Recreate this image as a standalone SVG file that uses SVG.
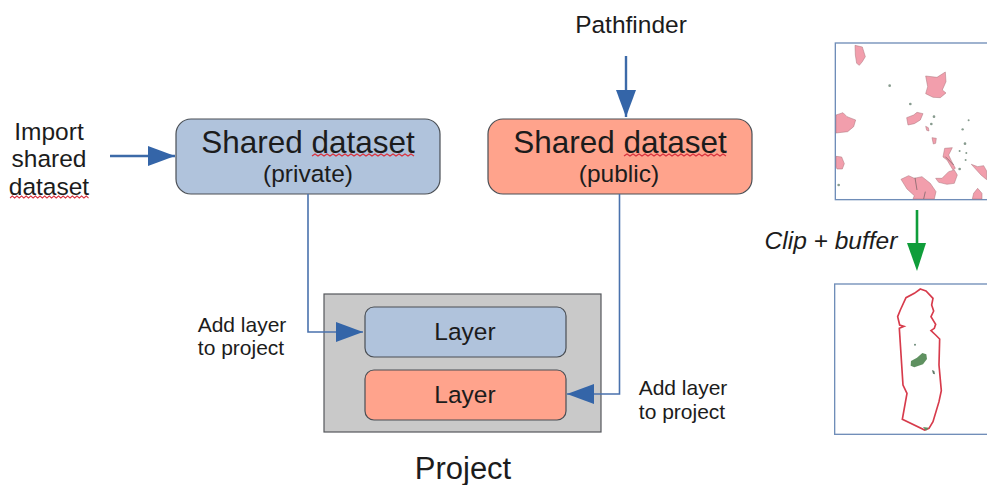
<svg xmlns="http://www.w3.org/2000/svg" width="987" height="485" viewBox="0 0 987 485">
<style>
text{font-family:"Liberation Sans",Arial,sans-serif;fill:#1c1c1c;text-anchor:middle}
.t31{font-size:31.500px}.t24{font-size:24.500px}.t21{font-size:21px}
.box{stroke:#4a4f55;stroke-width:1.200}
.blue{fill:#b0c3dc}.sal{fill:#ffa38c}
.conn{fill:none;stroke:#4a72ad;stroke-width:1.600}
.thick{fill:none;stroke:#3c6aa8;stroke-width:2.400}
.sq{fill:none;stroke:#d9333f;stroke-width:1.300}
.frame{fill:#fff;stroke:#6f8db8;stroke-width:4}
.isl{fill:#f29eac;stroke:#a8737c;stroke-width:1.500;stroke-linejoin:round}
.dk{fill:#5f7a68;stroke:none;opacity:.75}
</style>
<defs>
<filter id="soft" x="-5%" y="-5%" width="110%" height="110%"><feGaussianBlur stdDeviation="1.200"/></filter>
<marker id="ab" markerUnits="userSpaceOnUse" markerWidth="28" markerHeight="22" refX="27" refY="11" orient="auto"><path d="M0 1L27 11L0 21Z" fill="#3465a8"/></marker>
<path id="w" d="M0 0l3-2 3 2 3-2 3 2 3-2 3 2 3-2 3 2 3-2 3 2 3-2 3 2 3-2 3 2 3-2 3 2 3-2 3 2 3-2 3 2 3-2 3 2 3-2 3 2 3-2 3 2 3-2 3 2 3-2 3 2 3-2 3 2 3-2 3 2"/>
</defs>
<rect width="987" height="485" fill="#fff"/>
<g id="import-label">
<text class="t24" x="49" y="140">Import</text>
<text class="t24" x="49" y="167">shared</text>
<text class="t24" x="49" y="195">dataset</text>
<use href="#w" class="sq" transform="translate(10 198) scale(.77 1)"/>
</g>
<g id="pathfinder-label"><text class="t24" x="631" y="33">Pathfinder</text></g>
<g id="shared-private">
<rect class="box blue" x="176" y="119" width="264" height="75" rx="15"/>
<text class="t31" x="308" y="153">Shared dataset</text>
<text class="t24" x="308" y="182">(private)</text>
<use href="#w" class="sq" transform="translate(312 156)"/>
</g>
<g id="shared-public">
<rect class="box sal" x="488" y="119" width="264" height="75" rx="15"/>
<text class="t31" x="620" y="153">Shared dataset</text>
<text class="t24" x="619" y="182">(public)</text>
<use href="#w" class="sq" transform="translate(624 156)"/>
</g>
<g id="project">
<rect x="324" y="294" width="277" height="138" fill="#c9c9c9" stroke="#55585c" stroke-width="1.200"/>
<text x="463" y="479" font-size="31px">Project</text>
</g>
<g id="layer-private">
<rect class="box blue" x="365" y="307" width="201" height="50" rx="9"/>
<text class="t24" x="465" y="340">Layer</text>
</g>
<g id="layer-public">
<rect class="box sal" x="365" y="370" width="201" height="50" rx="9"/>
<text class="t24" x="465" y="403">Layer</text>
</g>
<g id="add-layer-left">
<text class="t21" x="242" y="332">Add layer</text>
<text class="t21" x="241" y="355">to project</text>
</g>
<g id="add-layer-right">
<text class="t21" x="683" y="395">Add layer</text>
<text class="t21" x="682" y="419">to project</text>
</g>
<g id="clip-label"><text class="t24" x="831" y="249" font-style="italic">Clip + buffer</text></g>
<g id="connectors">
<path class="thick" d="M110 156H175" marker-end="url(#ab)"/>
<path class="thick" d="M626 56V117" marker-end="url(#ab)"/>
<path class="conn" d="M308 194V332H363" marker-end="url(#ab)"/>
<path class="conn" d="M619.500 194V394H567" marker-end="url(#ab)"/>
<path d="M917 210V250" fill="none" stroke="#0f9d3a" stroke-width="2.600"/>
<path d="M907 243H926L917 271Z" fill="#0f9d3a"/>
</g>
<g id="map-before" transform="translate(827 35) scale(.3333)">
<rect class="frame" x="25" y="24" width="470" height="470"/>
<g filter="url(#soft)">
<path class="isl" d="M84 31L106 36L115 65L106 80L97 91L89 85L85 60Z"/>
<path class="isl" d="M296 123L330 127L355 111L357 140L346 165L357 174L340 188L318 187L296 176L302 155Z"/>
<path class="isl" d="M27 240L48 233L60 245L86 255L80 275L62 290L27 294Z"/>
<path class="isl" d="M27 364L44 366L52 386L46 402L30 402L27 395Z"/>
<path class="isl" d="M239 248L260 240L270 232L288 236L280 255L262 266L243 270Z"/>
<path class="isl" d="M296 274L304 278L306 288L299 286Z"/>
<path class="isl" d="M315 308L328 310L326 325L319 327Z"/>
<path class="isl" d="M353 340L376 338L365 360L372 375L385 400L378 405L360 375L348 366Z"/>
<path class="isl" d="M326 430L345 430L365 410L382 405L391 420L382 445L360 448L335 442Z"/>
<path class="isl" d="M222 433L245 422L262 430L285 425L310 445L327 470L322 492H258L262 482L240 462Z"/>
<path class="isl" d="M433 388L452 395L470 392L479 408V434L462 420Z"/>
<path class="isl" d="M436 492L440 475L452 460L465 475V492Z"/>
<path d="M264 428L270 465M295 470L290 492M355 365L380 390" fill="none" stroke="#6a5a5e" stroke-width="2"/>
<g class="dk"><circle cx="188" cy="152" r="4"/><circle cx="250" cy="207" r="4"/><circle cx="321" cy="245" r="4"/><circle cx="313" cy="267" r="4"/><circle cx="407" cy="283" r="3.500"/><circle cx="414" cy="326" r="4"/><circle cx="418" cy="354" r="3"/><circle cx="398" cy="402" r="4"/><circle cx="35" cy="450" r="4"/><circle cx="425" cy="256" r="3"/><circle cx="398" cy="348" r="3"/><circle cx="416" cy="375" r="3"/></g>
</g>
</g>
<g id="map-after" transform="translate(827 275) scale(.3333)">
<rect class="frame" x="23" y="27" width="470" height="451"/>
<g filter="url(#soft)">
<path d="M280 42L297 48L318 70L314 90L320 108L312 125L326 148L322 160L312 167L326 180L338 192L336 270L343 347L336 380L318 440L306 460L293 465L226 433L240 355L228 330L217 160L231 154L218 150L212 125L220 105L237 68L262 55Z" fill="none" stroke="#d73b4c" stroke-width="5"/>
<path d="M252 258L270 248L286 234L298 238L300 252L288 268L262 277L251 272Z" fill="#5f9161"/>
<path d="M288 456L305 458L297 467Z" fill="#5f9161"/>
<circle cx="264" cy="209" r="3" fill="#6b8a78"/>
<path d="M315 285L322 288L324 298L318 296Z" fill="#5f7a68"/>
</g>
</g>
</svg>
